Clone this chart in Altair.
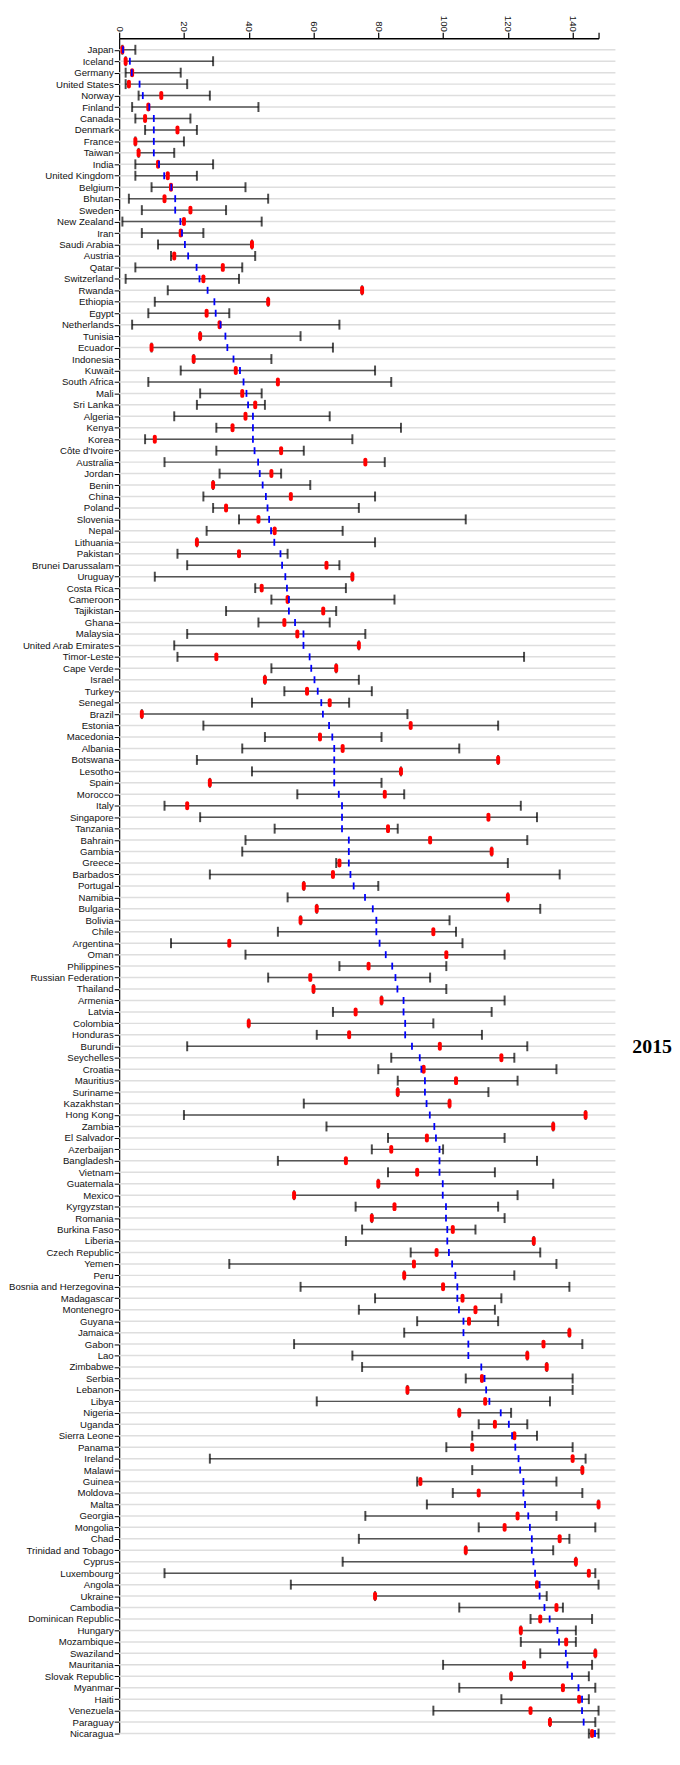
import json
import altair as alt
import pandas as pd

countries = ["Japan", "Iceland", "Germany", "United States", "Norway", "Finland", "Canada", "Denmark",
             "France", "Taiwan", "India", "United Kingdom", "Belgium", "Bhutan", "Sweden", "New Zealand",
             "Iran", "Saudi Arabia", "Austria", "Qatar", "Switzerland", "Rwanda", "Ethiopia", "Egypt",
             "Netherlands", "Tunisia", "Ecuador", "Indonesia", "Kuwait", "South Africa", "Mali", "Sri Lanka",
             "Algeria", "Kenya", "Korea", "Côte d'Ivoire", "Australia", "Jordan", "Benin", "China", "Poland",
             "Slovenia", "Nepal", "Lithuania", "Pakistan", "Brunei Darussalam", "Uruguay", "Costa Rica",
             "Cameroon", "Tajikistan", "Ghana", "Malaysia", "United Arab Emirates", "Timor-Leste",
             "Cape Verde", "Israel", "Turkey", "Senegal", "Brazil", "Estonia", "Macedonia", "Albania",
             "Botswana", "Lesotho", "Spain", "Morocco", "Italy", "Singapore", "Tanzania", "Bahrain", "Gambia",
             "Greece", "Barbados", "Portugal", "Namibia", "Bulgaria", "Bolivia", "Chile", "Argentina", "Oman",
             "Philippines", "Russian Federation", "Thailand", "Armenia", "Latvia", "Colombia", "Honduras",
             "Burundi", "Seychelles", "Croatia", "Mauritius", "Suriname", "Kazakhstan", "Hong Kong", "Zambia",
             "El Salvador", "Azerbaijan", "Bangladesh", "Vietnam", "Guatemala", "Mexico", "Kyrgyzstan",
             "Romania", "Burkina Faso", "Liberia", "Czech Republic", "Yemen", "Peru",
             "Bosnia and Herzegovina", "Madagascar", "Montenegro", "Guyana", "Jamaica", "Gabon", "Lao",
             "Zimbabwe", "Serbia", "Lebanon", "Libya", "Nigeria", "Uganda", "Sierra Leone", "Panama",
             "Ireland", "Malawi", "Guinea", "Moldova", "Malta", "Georgia", "Mongolia", "Chad",
             "Trinidad and Tobago", "Cyprus", "Luxembourg", "Angola", "Ukraine", "Cambodia",
             "Dominican Republic", "Hungary", "Mozambique", "Swaziland", "Mauritania", "Slovak Republic",
             "Myanmar", "Haiti", "Venezuela", "Paraguay", "Nicaragua"]

low = [1, 2, 2, 2, 6, 4, 5, 8, 5, 6, 5, 5, 10, 3, 7, 1, 7, 12, 16, 5, 2, 15, 11, 9, 4, 25, 10, 23, 19, 9,
       25, 24, 17, 30, 8, 30, 14, 31, 29, 26, 29, 37, 27, 24, 18, 21, 11, 42, 47, 33, 43, 21, 17, 18, 47,
       45, 51, 41, 7, 26, 45, 38, 24, 41, 28, 55, 14, 25, 48, 39, 38, 67, 28, 57, 52, 61, 56, 49, 16, 39,
       68, 46, 60, 81, 66, 40, 61, 21, 84, 80, 86, 86, 57, 20, 64, 83, 78, 49, 83, 80, 54, 73, 78, 75, 70,
       90, 34, 88, 56, 79, 74, 92, 88, 54, 72, 75, 107, 89, 61, 105, 111, 109, 101, 28, 109, 92, 103, 95,
       76, 111, 74, 107, 69, 14, 53, 79, 105, 127, 124, 124, 130, 100, 121, 105, 118, 97, 133, 145]

high = [5, 29, 19, 21, 28, 43, 22, 24, 20, 17, 29, 24, 39, 46, 33, 44, 26, 41, 42, 38, 37, 75, 46, 34, 68,
        56, 66, 47, 79, 84, 44, 45, 65, 87, 72, 57, 82, 50, 59, 79, 74, 107, 69, 79, 52, 68, 72, 70, 85, 67,
        65, 76, 74, 125, 67, 74, 78, 71, 89, 117, 81, 105, 117, 87, 81, 88, 124, 129, 86, 126, 115, 120,
        136, 80, 120, 130, 102, 104, 106, 119, 101, 96, 101, 119, 115, 97, 112, 126, 122, 135, 123, 114,
        102, 144, 134, 119, 100, 129, 116, 134, 123, 117, 119, 110, 128, 130, 135, 122, 139, 118, 116, 117,
        139, 143, 126, 132, 140, 140, 133, 121, 126, 129, 140, 144, 143, 135, 143, 148, 135, 147, 139, 134,
        141, 147, 148, 132, 137, 146, 141, 141, 147, 146, 145, 147, 145, 148, 147, 148]

red_value = [1, 2, 4, 3, 13, 9, 8, 18, 5, 6, 12, 15, 16, 14, 22, 20, 19, 41, 17, 32, 26, 75, 46, 27, 31, 25,
             10, 23, 36, 49, 38, 42, 39, 35, 11, 50, 76, 47, 29, 53, 33, 43, 48, 24, 37, 64, 72, 44, 52, 63,
             51, 55, 74, 30, 67, 45, 58, 65, 7, 90, 62, 69, 117, 87, 28, 82, 21, 114, 83, 96, 115, 68, 66,
             57, 120, 61, 56, 97, 34, 101, 77, 59, 60, 81, 73, 40, 71, 99, 118, 94, 104, 86, 102, 144, 134,
             95, 84, 70, 92, 80, 54, 85, 78, 103, 128, 98, 91, 88, 100, 106, 110, 108, 139, 131, 126, 132,
             112, 89, 113, 105, 116, 122, 109, 140, 143, 93, 111, 148, 123, 119, 136, 107, 141, 145, 129, 79,
             135, 130, 124, 138, 147, 125, 121, 137, 142, 127, 133, 146]

blue_value = [1.2, 3.3, 3.9, 6.3, 7.3, 9.3, 10.7, 10.7, 10.7, 10.7, 12.3, 13.9, 16.1, 17.3, 17.3, 18.9, 19.4,
              20.3, 21.3, 23.9, 24.8, 27.3, 29.4, 29.8, 31.3, 32.8, 33.4, 35.3, 37.3, 38.4, 39.3, 39.8, 41.3,
              41.3, 41.3, 41.8, 42.9, 43.4, 44.3, 45.3, 45.8, 46.3, 46.9, 47.9, 49.8, 50.3, 51.3, 51.8, 52.4,
              52.4, 54.3, 56.9, 56.9, 58.8, 59.3, 60.3, 61.3, 62.4, 62.9, 64.8, 65.8, 66.4, 66.4, 66.4, 66.4,
              67.8, 68.8, 68.8, 68.8, 70.9, 70.9, 70.9, 71.4, 72.4, 75.9, 78.3, 79.4, 79.4, 80.4, 82.3, 84.3,
              85.3, 85.9, 87.8, 87.8, 88.3, 88.3, 90.4, 92.8, 93.3, 94.4, 94.4, 94.9, 95.9, 97.3, 97.8, 98.9,
              98.9, 98.9, 99.9, 99.9, 100.9, 100.9, 101.3, 101.3, 101.8, 102.8, 103.8, 104.4, 104.4, 104.9,
              106.3, 106.3, 107.8, 107.8, 111.8, 112.8, 113.3, 114.3, 117.8, 120.3, 121.3, 122.3, 123.3, 123.8,
              124.8, 124.8, 125.3, 126.3, 126.8, 127.4, 127.4, 127.9, 128.4, 129.8, 129.8, 131.3, 132.9,
              135.3, 135.8, 137.9, 138.4, 139.8, 141.8, 142.9, 142.9, 143.4, 146.9]

year_label = "2015"
x_ticks = [0, 20, 40, 60, 80, 100, 120, 140, 148]

n = len(countries)
df = pd.DataFrame({
    "idx": list(range(1, n + 1)),
    "country": countries,
    "low": low,
    "high": high,
    "red": red_value,
    "blue": blue_value,
})

STEP = 11.54
H = round(n * STEP)
W = 483

label_array = json.dumps(countries, ensure_ascii=False)

Y = alt.Y("idx:Q",
          scale=alt.Scale(domain=[0, n], reverse=True, nice=False, zero=False),
          axis=alt.Axis(values=list(range(1, n + 1)), labelExpr=f"{label_array}[datum.value - 1]",
                        title=None, grid=False, domainColor="#000000", domainWidth=1.2,
                        tickColor="#000000", tickSize=5, tickWidth=1, labelFont="Liberation Sans",
                        labelFontSize=9.7, labelColor="#111111", labelPadding=1, labelOverlap=False,
                        labelBound=False, labelFlush=False))

X_AXIS = alt.Axis(orient="top", values=x_ticks,
                  labelExpr="datum.value == 148 ? '' : datum.label",
                  labelAngle=90, labelAlign="right", labelBaseline="middle",
                  title=None, grid=False, domainColor="#000000", domainWidth=1.5,
                  tickColor="#000000", tickSize=6, tickWidth=1.2, labelFont="Liberation Sans",
                  labelFontSize=9.7, labelColor="#111111", labelPadding=1, labelFlush=False,
                  labelOverlap=False)
XSCALE = alt.Scale(domain=[0, 148], nice=False, zero=False)

base = alt.Chart(df)

grid = base.mark_rule(color="#dedede", strokeWidth=1.5).encode(
    y=Y, x=alt.value(0), x2=alt.value(500))

span = base.mark_rule(color="#555555", strokeWidth=1.5).encode(
    y=Y, x=alt.X("low:Q", scale=XSCALE, axis=X_AXIS), x2="high:Q")

cap_low = base.mark_tick(orient="vertical", color="#000000", thickness=2, size=10).encode(
    y=Y, x=alt.X("low:Q", scale=XSCALE, axis=X_AXIS))
cap_high = base.mark_tick(orient="vertical", color="#000000", thickness=2, size=10).encode(
    y=Y, x=alt.X("high:Q", scale=XSCALE, axis=X_AXIS))

red = base.mark_tick(orient="vertical", color="#ff0000", thickness=4, size=9, cornerRadius=2,
                     opacity=1).encode(y=Y, x=alt.X("red:Q", scale=XSCALE, axis=X_AXIS))

blue = base.mark_tick(orient="vertical", color="#0000ff", thickness=1.8, size=7, opacity=1).encode(
    y=Y, x=alt.X("blue:Q", scale=XSCALE, axis=X_AXIS))

year = alt.Chart(pd.DataFrame({"t": [year_label]})).mark_text(
    font="Liberation Serif", fontWeight="bold", fontSize=20, color="#000000",
    align="center", baseline="middle").encode(
    text="t:N", x=alt.value(537), y=alt.value(round(STEP * 88)))

chart = alt.layer(grid, span, cap_low, cap_high, red, blue, year).properties(
    width=W, height=H, padding={"top": 0, "bottom": 0, "left": 0, "right": 0},
    background="#ffffff"
).configure_view(stroke=None)

chart.save("out.html", embed_options={"renderer": "svg", "actions": False})
